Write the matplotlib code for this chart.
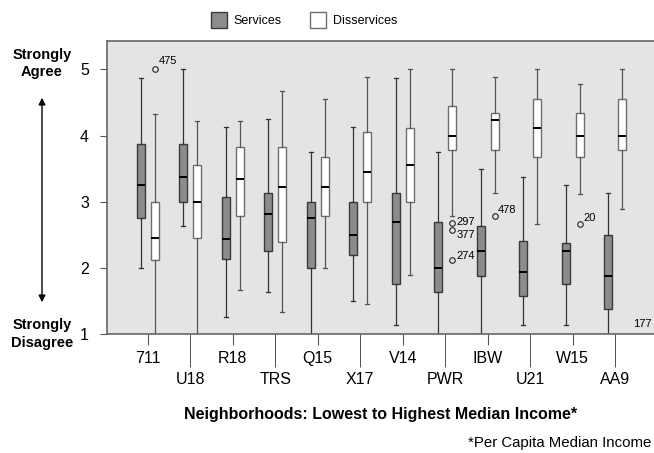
import matplotlib
matplotlib.use("Agg")
import matplotlib.pyplot as plt
from matplotlib.patches import Patch

plt.rcParams['font.family'] = ['Liberation Sans', 'DejaVu Sans']

# neighborhoods, lowest to highest median income
hoods = ["711", "U18", "R18", "TRS", "Q15", "X17", "V14", "PWR", "IBW", "U21", "W15", "AA9"]

# services (gray boxes)
svc_lo = [2.00, 2.63, 1.26, 1.63, 1.00, 1.50, 1.13, 1.00, 1.00, 1.13, 1.13, 1.00]
svc_q1 = [2.75, 3.00, 2.13, 2.25, 2.00, 2.19, 1.75, 1.63, 1.87, 1.57, 1.75, 1.38]
svc_med = [3.25, 3.38, 2.44, 2.82, 2.75, 2.50, 2.69, 2.00, 2.26, 1.94, 2.26, 1.87]
svc_q3 = [3.88, 3.88, 3.07, 3.13, 3.00, 3.00, 3.13, 2.69, 2.63, 2.40, 2.38, 2.50]
svc_hi = [4.87, 5.00, 4.13, 4.25, 3.75, 4.13, 4.87, 3.75, 3.50, 3.38, 3.25, 3.13]

# disservices (white boxes)
dis_lo = [1.00, 1.00, 1.67, 1.34, 2.00, 1.45, 1.89, 2.78, 3.13, 2.67, 3.12, 2.89]
dis_q1 = [2.12, 2.45, 2.78, 2.39, 2.78, 3.00, 3.00, 3.78, 3.78, 3.67, 3.67, 3.78]
dis_med = [2.45, 3.00, 3.34, 3.23, 3.23, 3.45, 3.56, 4.00, 4.23, 4.11, 4.00, 4.00]
dis_q3 = [3.00, 3.56, 3.83, 3.83, 3.67, 4.06, 4.11, 4.44, 4.34, 4.56, 4.34, 4.56]
dis_hi = [4.33, 4.22, 4.22, 4.67, 4.56, 4.89, 5.00, 5.00, 4.89, 5.00, 4.78, 5.00]

# labelled outliers of the disservices boxes: (neighborhood index, value, case id)
dis_out = [(0, 5.00, "475"), (7, 2.68, "297"), (7, 2.57, "377"), (7, 2.12, "274"),
           (8, 2.78, "478"), (10, 2.67, "20")]
# label offsets (pixels) for each outlier id
out_offset = {"475": (4, 8), "297": (4, 1), "377": (4, -5), "274": (4, 4),
              "478": (3, 6), "20": (4, 6)}

fig = plt.figure(figsize=(6.54, 4.53), dpi=100)
ax = fig.add_axes([107/654, 1 - 334/453, 572/654, 293/453])
ax.set_facecolor("#e4e4e4")

shift = 0.165
w = 0.19

svc_stats = []
dis_stats = []
for i in range(len(hoods)):
    svc_stats.append(dict(med=svc_med[i], q1=svc_q1[i], q3=svc_q3[i],
                          whislo=svc_lo[i], whishi=svc_hi[i], fliers=[]))
    fl = [v for (k, v, _) in dis_out if k == i]
    dis_stats.append(dict(med=dis_med[i], q1=dis_q1[i], q3=dis_q3[i],
                          whislo=dis_lo[i], whishi=dis_hi[i], fliers=fl))

pos = list(range(len(hoods)))
ax.bxp(svc_stats, positions=[p - shift for p in pos], widths=w, patch_artist=True,
       boxprops=dict(facecolor="#8c8c8c", edgecolor="#3a3a3a", linewidth=1.0),
       medianprops=dict(color="black", linewidth=1.4),
       whiskerprops=dict(color="#333333", linewidth=0.9),
       capprops=dict(color="#333333", linewidth=0.9), manage_ticks=False)
ax.bxp(dis_stats, positions=[p + shift for p in pos], widths=w, patch_artist=True,
       boxprops=dict(facecolor="white", edgecolor="#6e6e6e", linewidth=1.0),
       medianprops=dict(color="black", linewidth=1.4),
       whiskerprops=dict(color="#555555", linewidth=0.9),
       capprops=dict(color="#555555", linewidth=0.9),
       flierprops=dict(marker="o", markerfacecolor="none", markeredgecolor="#222222",
                       markersize=4, markeredgewidth=0.8),
       manage_ticks=False)

for k, v, lab in dis_out:
    ax.annotate(lab, (k + shift, v), xytext=out_offset[lab], textcoords="offset pixels",
                fontsize=8, va="center", ha="left")
ax.text(11.42, 1.15, "177", fontsize=8, ha="left", va="center")

ax.set_xlim(-0.958, 12.5)
ax.set_ylim(1, 5.43)
ax.set_yticks([1, 2, 3, 4, 5])
ax.tick_params(axis="y", labelsize=11.5, length=5, color="#555555", pad=8)

# alternating two-row x labels
ax.set_xticks(pos[0::2], hoods[0::2])
ax.set_xticks(pos[1::2], hoods[1::2], minor=True)
ax.tick_params(axis="x", which="major", length=8, pad=4.5, labelsize=11.5, color="#555555")
ax.tick_params(axis="x", which="minor", length=24, pad=3, labelsize=11.5, color="#333333")

for s in ax.spines.values():
    s.set_color("#666666")
    s.set_linewidth(1.2)

# legend
handles = [Patch(facecolor="#8c8c8c", edgecolor="#3a3a3a", label="Services"),
           Patch(facecolor="white", edgecolor="#6e6e6e", label="Disservices")]
fig.legend(handles=handles, loc="center", bbox_to_anchor=(304/654, 1 - 20/453), ncol=2,
           frameon=False, fontsize=9, handlelength=1.25, handleheight=1.7,
           columnspacing=2.3, handletextpad=0.55)

# left scale annotation
fig.text(42/654, 1 - 63.5/453, "Strongly\nAgree", ha="center", va="center",
         fontsize=10.5, fontweight="bold", linespacing=1.3)
fig.text(42/654, 1 - 334/453, "Strongly\nDisagree", ha="center", va="center",
         fontsize=10.5, fontweight="bold", linespacing=1.3)
fig.add_artist(matplotlib.patches.FancyArrowPatch(
    (42/654, 1 - 305/453), (42/654, 1 - 95/453), transform=fig.transFigure,
    arrowstyle="<|-|>", mutation_scale=10, color="black", linewidth=1.0))

fig.text(381/654, 1 - 414/453, "Neighborhoods: Lowest to Highest Median Income*",
         ha="center", va="center", fontsize=11.5, fontweight="bold")
fig.text(468/654, 1 - 443/453, "*Per Capita Median Income", ha="left", va="center",
         fontsize=10.8)

fig.savefig("out.png", dpi=100)
